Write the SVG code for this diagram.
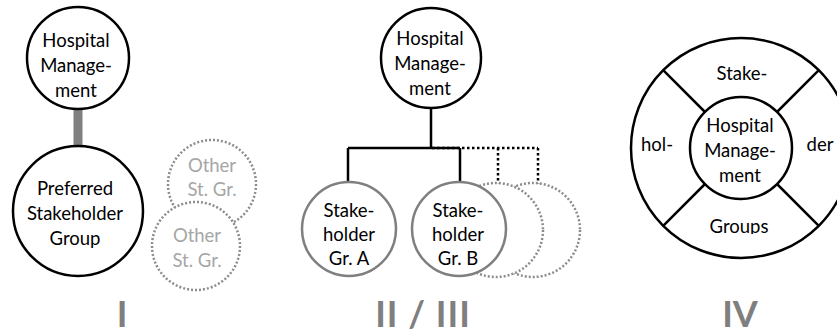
<svg xmlns="http://www.w3.org/2000/svg" width="837" height="336" viewBox="0 0 837 336">
  <style>
    .node { fill: #ffffff; stroke: #000000; stroke-width: 2.5; }
    .sub { fill: #ffffff; stroke: #7f7f7f; stroke-width: 2.5; }
    .ghost { fill: #ffffff; stroke: #8c8c8c; stroke-width: 2.5; stroke-dasharray: 2 2; }
    .txt { font-family: Lato, "Liberation Sans", sans-serif; font-size: 18.5px; fill: #000000; text-anchor: middle; }
    .ghost-txt { font-family: Lato, "Liberation Sans", sans-serif; font-size: 18.5px; fill: #a6a6a6; text-anchor: middle; }
    .label { font-family: Lato, "Liberation Sans", sans-serif; font-size: 36px; font-weight: bold; fill: #7f7f7f; text-anchor: middle; }
    .link { fill: none; stroke: #000000; stroke-width: 2.5; }
    .link-dot { fill: none; stroke: #000000; stroke-width: 2.5; stroke-dasharray: 2.5 2.5; }
  </style>
  <defs>
    <clipPath id="groups-clip">
      <rect x="690" y="205" width="100" height="29"/>
    </clipPath>
  </defs>

  <!-- connectors -->
  <g id="connectors">
    <rect x="73.5" y="108" width="9" height="39" fill="#808080"/>
    <path class="link" d="M431 108 V148 M348 148 H460 M348 148 V182 M460 148 V182"/>
    <path class="link-dot" d="M432 148 H538 M498 148 V184 M538 148 V184"/>
  </g>

  <!-- I -->
  <g id="hm-1">
    <circle class="node" cx="78" cy="58" r="51"/>
    <text class="txt" x="76" y="47">Hospital</text>
    <text class="txt" x="76" y="72">Manage-</text>
    <text class="txt" x="76" y="97">ment</text>
  </g>
  <g id="preferred">
    <circle class="node" cx="78" cy="211" r="65"/>
    <text class="txt" x="75" y="195">Preferred</text>
    <text class="txt" x="75" y="220">Stakeholder</text>
    <text class="txt" x="75" y="245">Group</text>
  </g>
  <g id="other-1">
    <circle class="ghost" cx="212" cy="184" r="44"/>
    <text class="ghost-txt" x="212" y="172">Other</text>
    <text class="ghost-txt" x="212" y="196">St. Gr.</text>
  </g>
  <g id="other-2">
    <circle class="ghost" cx="196" cy="246" r="44"/>
    <text class="ghost-txt" x="197" y="242">Other</text>
    <text class="ghost-txt" x="197" y="267">St. Gr.</text>
  </g>
  <text class="label" x="122" y="327">I</text>

  <!-- II / III -->
  <g id="hm-2">
    <circle class="node" cx="431" cy="58" r="50"/>
    <text class="txt" x="430" y="45">Hospital</text>
    <text class="txt" x="430" y="70">Manage-</text>
    <text class="txt" x="430" y="95">ment</text>
  </g>
  <g id="more-2">
    <circle class="ghost" cx="533" cy="230" r="47"/>
  </g>
  <g id="more-1">
    <circle class="ghost" cx="496" cy="230" r="47"/>
  </g>
  <g id="group-a">
    <circle class="sub" cx="349" cy="229" r="47"/>
    <text class="txt" x="349" y="217">Stake-</text>
    <text class="txt" x="349" y="241">holder</text>
    <text class="txt" x="349" y="265">Gr. A</text>
  </g>
  <g id="group-b">
    <circle class="sub" cx="459" cy="229" r="47"/>
    <text class="txt" x="458" y="217">Stake-</text>
    <text class="txt" x="458" y="241">holder</text>
    <text class="txt" x="458" y="265">Gr. B</text>
  </g>
  <text class="label" x="423" y="327" letter-spacing="1">II / III</text>

  <!-- IV -->
  <g id="ring">
    <circle class="node" cx="741" cy="148" r="110"/>
    <path class="link" d="M663.2 70.2 L705 112 M818.8 70.2 L777 112 M663.2 225.8 L705 184 M818.8 225.8 L777 184"/>
    <text class="txt" x="742" y="80">Stake-</text>
    <text class="txt" x="657" y="151">hol-</text>
    <text class="txt" x="820" y="151">der</text>
    <text class="txt" x="739" y="233" clip-path="url(#groups-clip)">Groups</text>
  </g>
  <g id="hm-4">
    <circle class="node" cx="741" cy="148" r="51"/>
    <text class="txt" x="740" y="132">Hospital</text>
    <text class="txt" x="740" y="157">Manage-</text>
    <text class="txt" x="740" y="182">ment</text>
  </g>
  <text class="label" x="740" y="327">IV</text>
</svg>
